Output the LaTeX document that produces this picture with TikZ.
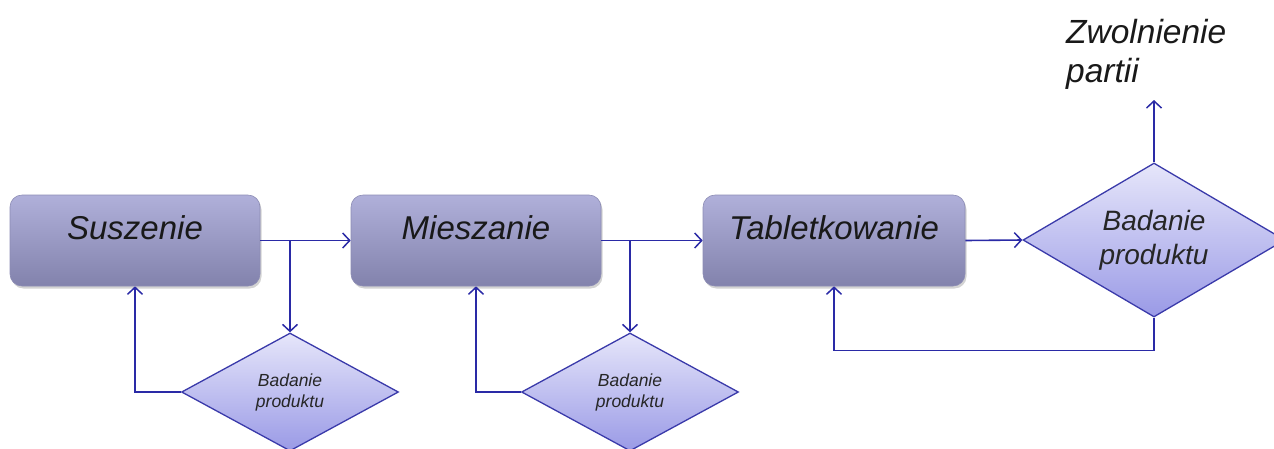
\documentclass[tikz,border=0pt]{standalone}
\usepackage{fontspec}
\setmainfont{Liberation Sans}
\usetikzlibrary{shapes.geometric,arrows.meta,shadows}
\definecolor{lineblue}{HTML}{2A2AA6}
\definecolor{boxtop}{HTML}{B0B0DA}
\definecolor{boxbot}{HTML}{8282AC}
\definecolor{boxedge}{HTML}{8C8CB4}
\definecolor{diatop}{HTML}{E6E6FA}
\definecolor{diabot}{HTML}{9A9AE6}
\definecolor{diaedge}{HTML}{3A3AAA}
\tikzset{
  procbox/.style={rectangle, rounded corners=12pt, minimum width=#1, minimum height=91pt,
    top color=boxtop, bottom color=boxbot, draw=boxedge, line width=0.6pt,
    drop shadow={opacity=0.35, shadow xshift=1.5pt, shadow yshift=-2.5pt}},
  boxtext/.style={font=\itshape\fontsize{33}{38}\selectfont, text=black!90},
  testdia/.style={diamond, inner sep=0pt, top color=diatop, bottom color=diabot,
    draw=diaedge, line width=1.3pt, align=center, text=black!85},
  arr/.style={draw=lineblue, line width=1.6pt, -{Straight Barb[length=7pt,width=15pt,line width=1.5pt]}},
}
\begin{document}
\begin{tikzpicture}[x=1pt,y=-1pt]
\useasboundingbox (0,0) rectangle (1274,448);

\node[procbox=250pt] (S) at (135,240.5) {};
\node[boxtext] (St) at (135,228) {Suszenie};
\node[procbox=250pt] (M) at (476,240.5) {};
\node[boxtext] (Mt) at (476,228) {Mieszanie};
\node[procbox=262pt] (T) at (834,240.5) {};
\node[boxtext] (Tt) at (834,228) {Tabletkowanie};

\node[testdia, aspect=1.84, minimum width=217pt, minimum height=118pt,
  font=\itshape\fontsize{17.5}{21}\selectfont] (D1) at (290,392) {Badanie\\produktu};
\node[testdia, aspect=1.84, minimum width=217pt, minimum height=118pt,
  font=\itshape\fontsize{17.5}{21}\selectfont] (D2) at (630,392) {Badanie\\produktu};
\node[testdia, aspect=1.7, minimum width=262pt, minimum height=154pt,
  font=\itshape\fontsize{28}{34}\selectfont] (D3) at (1154,240) {Badanie\\produktu};

\node[anchor=north west, align=left, inner sep=0pt,
  font=\itshape\fontsize{33.5}{39}\selectfont, text=black!90] (Z) at (1066,19) {Zwolnienie\\partii};

\coordinate (out) at (1154,100);

% main flow
\draw[arr] (S.east) -- (M.west);
\draw[arr] (M.east) -- (T.west);
\draw[arr] (T.east) -- (D3.west);

% branches to tests
\draw[arr] (S.east -| D1.north) -- (D1.north);
\draw[arr] (M.east -| D2.north) -- (D2.north);

% feedback loops
\draw[arr] (D1.west) -| (S.south);
\draw[arr] (D2.west) -| (M.south);
\draw[arr] (D3.south) -- ++(0,33) -| (T.south);

% release
\draw[arr] (D3.north) -- (out);
\end{tikzpicture}
\end{document}
